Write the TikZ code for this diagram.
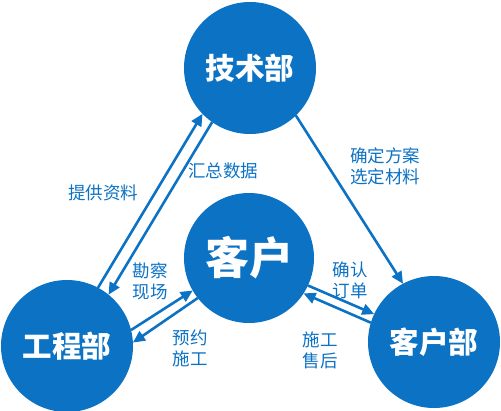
\documentclass[tikz,border=0pt]{standalone}
\usepackage{fontspec}
\newfontfamily\cjk{Noto Sans CJK SC}
\usetikzlibrary{arrows.meta}

\definecolor{dblue}{RGB}{12,114,196}

\tikzset{
  dept/.style={circle, fill=dblue, text=white, inner sep=0pt, outer sep=0pt,
    minimum size=132pt, font=\cjk\bfseries\fontsize{29.5}{34}\selectfont},
  lbl/.style={text=dblue, align=center, inner sep=0pt,
    font=\cjk\fontsize{17.5}{21}\selectfont},
  link/.style={dblue, line width=2.6pt, ->}
}

\begin{document}
\begin{tikzpicture}[x=1pt, y=-1pt, >={Triangle[length=12pt,width=11pt]}]
\useasboundingbox (0,0) rectangle (501,410);
\node (js) [dept] at (250,68) {技术部};
\node (gc) [dept] at (67,346) {工程部};
\node (khb) [dept] at (434,342) {客户部};
\node (kh) [dept, minimum size=130pt, font=\cjk\bfseries\fontsize{44}{50}\selectfont] at (249,258) {客户};

\draw[link] (gc.62) -- (js.224);
\draw[link] (js.235) -- (gc.51);
\draw[link] (js.-46) -- (khb.118);
\draw[link] (gc.14) -- (kh.210);
\draw[link] (kh.218) -- (gc.3);
\draw[link] (kh.-25) -- (khb.155);
\draw[link] (khb.163) -- (kh.-33);

\node (tg) [lbl] at (103,193) {提供资料};
\node (hz) [lbl] at (223,171) {汇总数据};
\node (qd) [lbl] at (385,166) {确定方案\\选定材料};
\node (kc) [lbl] at (150,281) {勘察\\现场};
\node (yy) [lbl] at (190,348) {预约\\施工};
\node (qr) [lbl] at (350,280) {确认\\订单};
\node (sg) [lbl] at (320,350) {施工\\售后};
\end{tikzpicture}
\end{document}
